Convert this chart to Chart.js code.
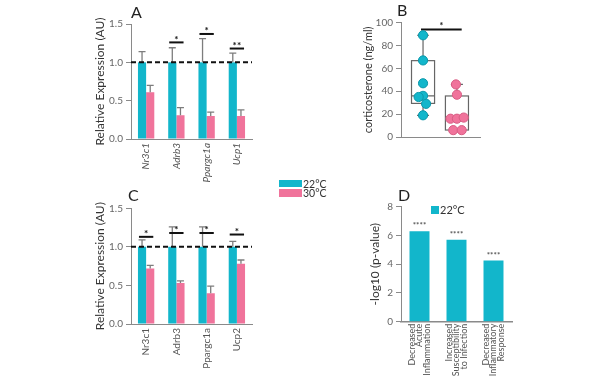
<!DOCTYPE html>
<html><head><meta charset="utf-8">
<script src="https://cdn.jsdelivr.net/npm/chart.js@4/dist/chart.umd.min.js"></script>
<style>
body{margin:0;background:#fff;width:600px;height:380px;position:relative;overflow:hidden;font-family:Lato,"Open Sans",sans-serif;}
canvas{position:absolute;}
.pl{position:absolute;font-size:16px;color:#222;line-height:16px;}
.lg{position:absolute;font-size:10.5px;color:#333;line-height:10px;}
.sw{position:absolute;}
</style></head><body>
<canvas id="cA" width="180" height="190" style="left:80px;top:0"></canvas>
<canvas id="cB" width="180" height="150" style="left:320px;top:0"></canvas>
<canvas id="cC" width="180" height="195" style="left:80px;top:185px"></canvas>
<canvas id="cD" width="200" height="195" style="left:320px;top:185px"></canvas>
<div class="pl" style="left:131px;top:4px">A</div>
<div class="pl" style="left:397px;top:2px">B</div>
<div class="pl" style="left:128px;top:187px">C</div>
<div class="pl" style="left:398px;top:187px">D</div>
<div class="sw" style="left:279px;top:180px;width:23px;height:7px;background:#12b6cb"></div>
<div class="sw" style="left:279px;top:189px;width:23px;height:8px;background:#f0739b"></div>
<div class="lg" style="left:303px;top:179px">22°C</div>
<div class="lg" style="left:303px;top:188px">30°C</div>
<div class="sw" style="left:431px;top:206px;width:8px;height:8px;background:#12b6cb"></div>
<div class="lg" style="left:440px;top:205px;font-size:11px">22°C</div>
<script>
// ---- data ----
const genesA = ['Nr3c1', 'Adrb3', 'Ppargc1a', 'Ucp1'];
const a22 = [1, 1, 1, 1];
const a22Err = [1.14, 1.19, 1.31, 1.12];
const a30 = [0.61, 0.31, 0.30, 0.30];
const a30Err = [0.70, 0.41, 0.35, 0.38];
const aSig = [null, 1.26, 1.37, 1.18];
const aSigLabel = ['', '*', '*', '**'];

const genesC = ['Nr3c1', 'Adrb3', 'Ppargc1a', 'Ucp2'];
const c22 = [1, 1, 1, 1];
const c22Err = [1.09, 1.26, 1.26, 1.07];
const c30 = [0.72, 0.53, 0.40, 0.78];
const c30Err = [0.76, 0.56, 0.49, 0.83];
const cSig = [1.13, 1.18, 1.18, 1.16];
const cSigLabel = ['*', '*', '*', '*'];

const bGroups = ['22°C', '30°C'];
const b22 = [89, 67, 47, 36, 35, 29, 19];
const b22Jitter = [0, 0, 0, 0, -0.13, 0.09, 0];
const b30 = [46, 37, 16, 16, 17, 6, 6];
const b30Jitter = [-0.03, 0, -0.19, 0, 0.2, -0.11, 0.14];
const bQ1 = [29.4, 6.1];
const bMed = [36, 16];
const bQ3 = [66.8, 35.9];
const bMin = [19, 6];
const bMax = [89, 46];
const bSig = 94;
const bSigLabel = '*';

const dTerms = [['Decreased', 'Acute', 'Inflammation'], ['Increased', 'Susceptibility', 'to Infection'], ['Decreased', 'Inflammatory', 'Response']];
const d22 = [6.3, 5.7, 4.25];
const dSigLabel = ['****', '****', '****'];

const yTicksExpr = [0, 0.5, 1.0, 1.5];
const yTicksB = [0, 20, 40, 60, 80, 100];
const yTicksD = [0, 2, 4, 6, 8];

// ---- styles ----
const CYAN = '#12b6cb', PINK = '#f0739b', AXIS = '#8a8a8a', TICK = '#666';
Chart.defaults.font.family = 'Lato, "Open Sans", sans-serif';
Chart.defaults.color = TICK;
Chart.defaults.animation = false;

function fixW(w) { return s => { s.width = w; }; }
function fixH(h) { return s => { s.height = h; }; }

function yAxis(min, max, ticks, title, titleSize, titlePad, width, fmt) {
  return {
    min, max,
    afterBuildTicks: s => { s.ticks = ticks.map(v => ({ value: v })); },
    afterFit: fixW(width),
    grid: { drawOnChartArea: false, drawTicks: true, tickLength: 5, color: AXIS, lineWidth: 1 },
    border: { color: AXIS, width: 1 },
    ticks: { font: { size: 10 }, color: TICK, padding: 3, callback: fmt },
    title: { display: true, text: title, color: '#333', font: { size: titleSize }, padding: { top: titlePad, bottom: 0 } }
  };
}

function exprPlugin(e22, v22, e30, v30, sig, sigLbl) {
  return {
    id: 'expr',
    afterDatasetsDraw(chart) {
      const ctx = chart.ctx, y = chart.scales.y, area = chart.chartArea;
      const m0 = chart.getDatasetMeta(0).data, m1 = chart.getDatasetMeta(1).data;
      ctx.save();
      ctx.strokeStyle = '#7d7d7d'; ctx.lineWidth = 1.3;
      [[m0, e22, v22], [m1, e30, v30]].forEach(([m, errs, vals]) => {
        m.forEach((bar, i) => {
          const yt = y.getPixelForValue(errs[i]), yb = y.getPixelForValue(vals[i]);
          ctx.beginPath();
          ctx.moveTo(bar.x, yb); ctx.lineTo(bar.x, yt);
          ctx.moveTo(bar.x - 3.5, yt); ctx.lineTo(bar.x + 3.5, yt);
          ctx.stroke();
        });
      });
      const y1 = y.getPixelForValue(1);
      ctx.setLineDash([5, 3]); ctx.strokeStyle = '#111'; ctx.lineWidth = 2;
      ctx.beginPath(); ctx.moveTo(area.left, y1); ctx.lineTo(area.right, y1); ctx.stroke();
      ctx.setLineDash([]);
      ctx.fillStyle = '#111'; ctx.textAlign = 'center'; ctx.textBaseline = 'alphabetic';
      ctx.font = 'bold 10px Lato, sans-serif';
      sig.forEach((s, i) => {
        if (s == null) return;
        const ys = y.getPixelForValue(s);
        const xl = m0[i].x - m0[i].width / 2 + 1, xr = m1[i].x + m1[i].width / 2 - 1;
        ctx.beginPath(); ctx.moveTo(xl, ys); ctx.lineTo(xr, ys); ctx.stroke();
        ctx.fillText(sigLbl[i], (xl + xr) / 2, ys + 0.5);
      });
      ctx.restore();
    }
  };
}

function exprChart(id, labels, v22, e22, v30, e30, sig, sigLbl, italic, padTop, xH) {
  new Chart(document.getElementById(id), {
    type: 'bar',
    data: {
      labels,
      datasets: [
        { label: '22°C', data: v22, backgroundColor: CYAN, barPercentage: 1, categoryPercentage: 0.54 },
        { label: '30°C', data: v30, backgroundColor: PINK, barPercentage: 1, categoryPercentage: 0.54 }
      ]
    },
    options: {
      responsive: false,
      layout: { padding: { left: 0, right: 8, top: padTop, bottom: 0 } },
      plugins: { legend: { display: false }, tooltip: { enabled: false } },
      scales: {
        x: {
          afterFit: fixH(xH),
          grid: { display: false, drawTicks: false },
          border: { color: AXIS, width: 1 },
          ticks: { minRotation: 90, maxRotation: 90, padding: 4, color: '#555', font: { size: 10, style: italic ? 'italic' : 'normal' } }
        },
        y: yAxis(0, 1.5, yTicksExpr, 'Relative Expression (AU)', 12, 12.8, 51, v => Number(v).toFixed(1))
      }
    },
    plugins: [exprPlugin(e22, v22, e30, v30, sig, sigLbl)]
  });
}

exprChart('cA', genesA, a22, a22Err, a30, a30Err, aSig, aSigLabel, true, 24, 51);
exprChart('cC', genesC, c22, c22Err, c30, c30Err, cSig, cSigLabel, false, 23.3, 56);

// ---- B: box plot ----
const boxPlugin = {
  id: 'box',
  beforeDatasetsDraw(chart) {
    const { ctx, scales: { x, y } } = chart;
    ctx.save();
    ctx.strokeStyle = '#666'; ctx.lineWidth = 1.2;
    bGroups.forEach((g, i) => {
      const cx = x.getPixelForValue(i + 1);
      const hw = x.getPixelForValue(i + 1 + 0.34) - cx;
      const top = y.getPixelForValue(bQ3[i]), bot = y.getPixelForValue(bQ1[i]);
      ctx.strokeRect(cx - hw, top, 2 * hw, bot - top);
      const ym = y.getPixelForValue(bMed[i]);
      ctx.beginPath(); ctx.moveTo(cx - hw, ym); ctx.lineTo(cx + hw, ym);
      const yMax = y.getPixelForValue(bMax[i]), yMin = y.getPixelForValue(bMin[i]);
      ctx.moveTo(cx, top); ctx.lineTo(cx, yMax);
      ctx.moveTo(cx - 6, yMax); ctx.lineTo(cx + 6, yMax);
      ctx.moveTo(cx, bot); ctx.lineTo(cx, yMin);
      ctx.moveTo(cx - 6, yMin); ctx.lineTo(cx + 6, yMin);
      ctx.stroke();
    });
    const ys = y.getPixelForValue(bSig);
    const xl = x.getPixelForValue(0.94), xr = x.getPixelForValue(2.14);
    ctx.strokeStyle = '#111'; ctx.lineWidth = 2;
    ctx.beginPath(); ctx.moveTo(xl, ys); ctx.lineTo(xr, ys); ctx.stroke();
    ctx.fillStyle = '#111'; ctx.textAlign = 'center'; ctx.font = 'bold 9px Lato, sans-serif';
    ctx.fillText(bSigLabel, (xl + xr) / 2, ys - 1);
    ctx.restore();
  }
};

new Chart(document.getElementById('cB'), {
  type: 'scatter',
  data: {
    datasets: [
      { label: bGroups[0], data: b22.map((v, i) => ({ x: 1 + b22Jitter[i], y: v })), pointRadius: 4.6, backgroundColor: CYAN, borderColor: '#0b98aa', borderWidth: 1 },
      { label: bGroups[1], data: b30.map((v, i) => ({ x: 2 + b30Jitter[i], y: v })), pointRadius: 4.6, backgroundColor: PINK, borderColor: '#d85d84', borderWidth: 1 }
    ]
  },
  options: {
    responsive: false,
    layout: { padding: { left: 0, right: 20, top: 22.7, bottom: 0 } },
    plugins: { legend: { display: false }, tooltip: { enabled: false } },
    scales: {
      x: {
        type: 'linear', min: 0.35, max: 2.68,
        afterFit: fixH(13),
        grid: { display: false, drawTicks: false },
        border: { color: AXIS, width: 1 },
        ticks: { display: false }
      },
      y: yAxis(0, 100, yTicksB, 'corticosterone (ng/ml)', 11, 41.4, 81, v => v)
    }
  },
  plugins: [boxPlugin]
});

// ---- D ----
const starPlugin = {
  id: 'stars',
  afterDatasetsDraw(chart) {
    const ctx = chart.ctx, m = chart.getDatasetMeta(0).data;
    ctx.save();
    ctx.fillStyle = '#555'; ctx.textAlign = 'center'; ctx.font = 'bold 8px Lato, sans-serif';
    m.forEach((bar, i) => ctx.fillText(dSigLabel[i], bar.x, bar.y - 3));
    ctx.restore();
  }
};

new Chart(document.getElementById('cD'), {
  type: 'bar',
  data: {
    labels: dTerms,
    datasets: [{ label: '22°C', data: d22, backgroundColor: CYAN, barPercentage: 1, categoryPercentage: 0.54 }]
  },
  options: {
    responsive: false,
    layout: { padding: { left: 0, right: 8, top: 21.7, bottom: 0 } },
    plugins: { legend: { display: false }, tooltip: { enabled: false } },
    scales: {
      x: {
        afterFit: fixH(58.3),
        grid: { display: false, drawTicks: false },
        border: { color: AXIS, width: 1.5 },
        ticks: { minRotation: 90, maxRotation: 90, padding: 2, labelOffset: -7.2, color: '#555', font: { size: 9, lineHeight: 0.8 } }
      },
      y: yAxis(0, 8, yTicksD, '-log10 (p-value)', 12, 47.8, 81, v => v)
    }
  },
  plugins: [starPlugin]
});
</script>
</body></html>
